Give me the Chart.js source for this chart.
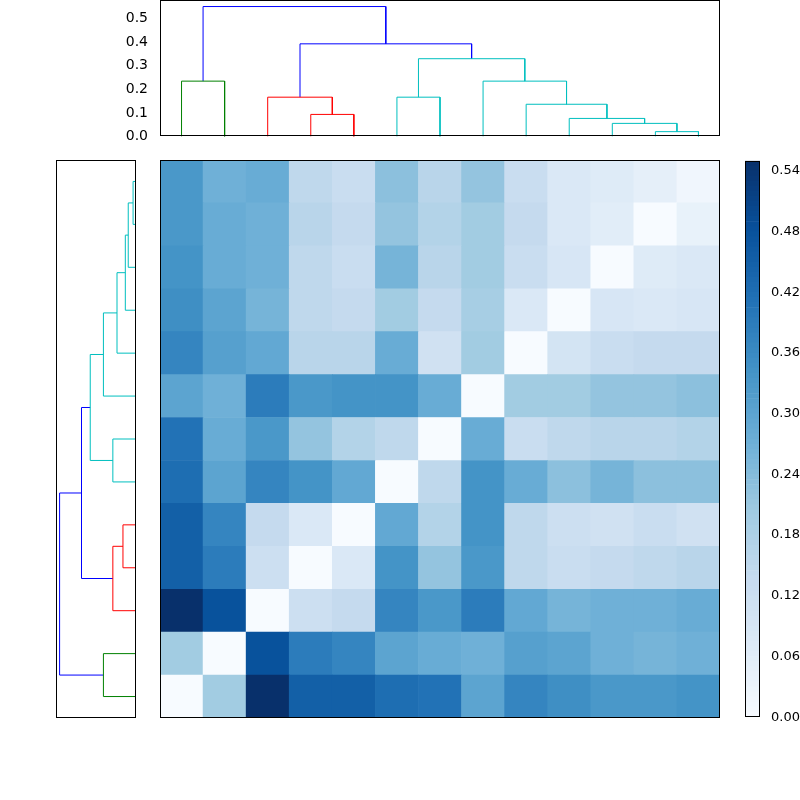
<!DOCTYPE html>
<html><head><meta charset="utf-8">
<script src="https://cdn.jsdelivr.net/npm/chart.js@4/dist/chart.umd.min.js"></script>
<style>body{margin:0;background:#fff;width:800px;height:800px;position:relative;overflow:hidden}canvas{position:absolute}</style>
</head><body>
<canvas id="top" style="left:100px;top:-12px;width:625px;height:161px" width="625" height="161"></canvas>
<canvas id="left" style="left:46px;top:150px;width:100px;height:578px" width="100" height="578"></canvas>
<canvas id="heat" style="left:150px;top:150px;width:580px;height:578px" width="580" height="578"></canvas>
<canvas id="cbar" style="left:735px;top:150px;width:65px;height:578px" width="65" height="578"></canvas>
<script>
// distance matrix rows from bottom (row 0) to top (row 12)
const row0 =[0.00,0.20,0.55,0.45,0.45,0.42,0.41,0.30,0.37,0.35,0.33,0.33,0.34];
const row1 =[0.20,0.00,0.48,0.39,0.37,0.30,0.28,0.27,0.31,0.30,0.27,0.26,0.27];
const row2 =[0.55,0.48,0.00,0.12,0.14,0.37,0.33,0.39,0.29,0.26,0.27,0.27,0.28];
const row3 =[0.45,0.39,0.12,0.00,0.08,0.34,0.22,0.33,0.15,0.13,0.14,0.15,0.16];
const row4 =[0.45,0.37,0.14,0.08,0.00,0.29,0.17,0.34,0.15,0.12,0.11,0.13,0.11];
const row5 =[0.42,0.30,0.37,0.34,0.29,0.00,0.15,0.34,0.28,0.23,0.26,0.23,0.23];
const row6 =[0.41,0.28,0.33,0.22,0.17,0.15,0.00,0.28,0.13,0.15,0.16,0.16,0.17];
const row7 =[0.30,0.27,0.39,0.33,0.34,0.34,0.28,0.00,0.20,0.20,0.22,0.22,0.23];
const row8 =[0.37,0.31,0.29,0.16,0.16,0.28,0.11,0.20,0.00,0.10,0.13,0.14,0.14];
const row9 =[0.35,0.30,0.26,0.15,0.14,0.20,0.14,0.19,0.08,0.00,0.09,0.08,0.09];
const row10=[0.34,0.28,0.27,0.15,0.13,0.26,0.16,0.20,0.13,0.09,0.00,0.07,0.08];
const row11=[0.33,0.28,0.27,0.16,0.14,0.22,0.17,0.20,0.14,0.08,0.06,0.00,0.04];
const row12=[0.33,0.27,0.28,0.15,0.13,0.23,0.16,0.22,0.13,0.08,0.07,0.05,0.02];
const rows=[row0,row1,row2,row3,row4,row5,row6,row7,row8,row9,row10,row11,row12];
const leaves=['0','1','2','3','4','5','6','7','8','9','10','11','12'];
// dendrogram links: [x1, x2, low1, low2, height, colour]
const linkX1=[5,35,25,55,115,105,95,85,75,60,32.5,10];
const linkX2=[15,45,40,65,125,120,112.5,103.75,94.375,84.6875,72.34,52.42];
const linkLow1=[0,0,0,0,0,0,0,0,0,0.167,0.167,0.235];
const linkLow2=[0,0,0.094,0,0,0.021,0.056,0.077,0.137,0.235,0.33,0.393];
const linkH=[0.235,0.094,0.167,0.167,0.021,0.056,0.077,0.137,0.235,0.33,0.393,0.551];
const linkC=['#008000','#ff0000','#ff0000','#00bfbf','#00bfbf','#00bfbf','#00bfbf','#00bfbf','#00bfbf','#00bfbf','#0000ff','#0000ff'];
const vmax=0.55;
const topTicks=[0,0.1,0.2,0.3,0.4,0.5];
const cbTicks=[0,0.06,0.12,0.18,0.24,0.30,0.36,0.42,0.48,0.54];

Chart.defaults.font.family='DejaVu Sans';Chart.defaults.font.size=14;Chart.defaults.color='#000';
Chart.defaults.animation=false;
const stops=['#f7fbff','#deebf7','#c6dbef','#9ecae1','#6baed6','#4292c6','#2171b5','#08519c','#08306b'];
function hex(h){return [1,3,5].map(i=>parseInt(h.substr(i,2),16));}
function blues(v){let t=Math.max(0,Math.min(1,v/vmax))*(stops.length-1);let i=Math.min(Math.floor(t),stops.length-2);let f=t-i;const a=hex(stops[i]),b=hex(stops[i+1]);
 return 'rgb('+a.map((c,k)=>Math.round(c+(b[k]-c)*f)).join(',')+')';}
const frame={id:'frame',afterDraw(c){const a=c.chartArea,x=c.ctx;x.save();x.strokeStyle='#000';x.lineWidth=1;x.strokeRect(Math.round(a.left)+0.5,Math.round(a.top)+0.5,Math.round(a.right-a.left)-1,Math.round(a.bottom-a.top)-1);x.restore();}};
const plugins={legend:{display:false},tooltip:{enabled:false}};
function linkSets(horiz){return linkX1.map((x1,i)=>{const p=[[x1,linkLow1[i]],[x1,linkH[i]],[linkX2[i],linkH[i]],[linkX2[i],linkLow2[i]]];
 return {data:p.map(q=>horiz?{x:q[1],y:q[0]}:{x:q[0],y:q[1]}),showLine:true,pointRadius:0,borderColor:linkC[i],borderWidth:1,fill:false};});}
new Chart(document.getElementById('top'),{type:'scatter',data:{datasets:linkSets(false)},plugins:[frame],
 options:{responsive:false,layout:{padding:{top:0,right:5,bottom:10,left:0}},plugins,
 scales:{x:{type:'linear',min:0,max:130,display:false},
 y:{min:0,max:0.577,afterFit:s=>{s.width=60},afterBuildTicks:s=>{s.ticks=topTicks.map(v=>({value:v}))},grid:{display:false},border:{display:false},ticks:{padding:4,callback:v=>v.toFixed(1)}}}}});
new Chart(document.getElementById('left'),{type:'scatter',data:{datasets:linkSets(true)},plugins:[frame],
 options:{responsive:false,layout:{padding:{top:10,right:10,bottom:10,left:10}},plugins,
 scales:{x:{type:'linear',min:0,max:0.577,reverse:true,display:false},y:{type:'linear',min:0,max:130,display:false}}}});
new Chart(document.getElementById('heat'),{type:'bar',data:{labels:leaves,datasets:rows.map(r=>({data:r.map(()=>1),backgroundColor:r.map(blues),borderWidth:0,barPercentage:1,categoryPercentage:1}))},plugins:[frame],
 options:{responsive:false,layout:{padding:10},plugins,scales:{x:{stacked:true,display:false},y:{stacked:true,min:0,max:13,display:false}}}});
const segs=[];for(let i=0;i<110;i++)segs.push(i*0.005+0.0025);
new Chart(document.getElementById('cbar'),{type:'bar',data:{labels:['c'],datasets:segs.map(v=>({data:[0.005],backgroundColor:blues(v),borderWidth:0,barPercentage:1,categoryPercentage:1}))},plugins:[frame],
 options:{responsive:false,layout:{padding:{top:10,bottom:6,left:10,right:0}},plugins,
 scales:{x:{stacked:true,display:false},y:{stacked:true,position:'right',min:0,max:0.55,afterFit:s=>{s.width=40},afterBuildTicks:s=>{s.ticks=cbTicks.map(v=>({value:v}))},grid:{display:false},border:{display:false},ticks:{padding:3,font:{size:13},callback:v=>v.toFixed(2)}}}}});
</script></body></html>
